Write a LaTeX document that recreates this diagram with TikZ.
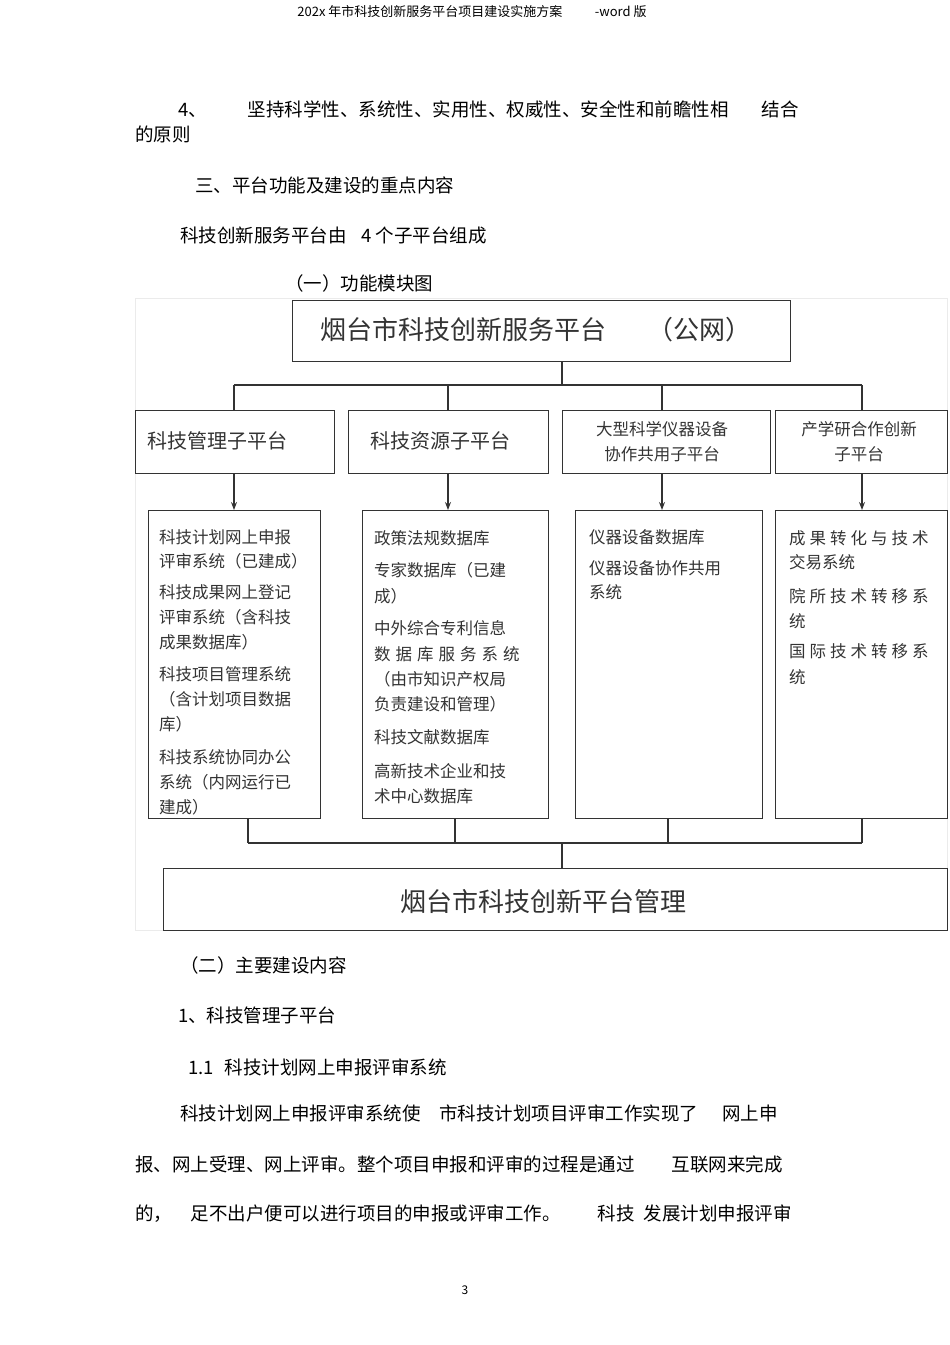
\documentclass[tikz,border=0pt]{standalone}
\usepackage{fontspec}
\setmainfont{Noto Sans CJK SC}
\usetikzlibrary{arrows.meta}
\begin{document}
\begin{tikzpicture}[x=1pt,y=-1pt,
  body/.style={anchor=west,inner sep=0pt,font=\fontsize{18.5}{22}\selectfont},
  small/.style={anchor=west,inner sep=0pt,font=\fontsize{16.5}{20}\selectfont,text=black!80},
  bx/.style={draw=black!80,line width=1pt},
  ln/.style={draw=black!80,line width=1.2pt},
  ar/.style={ln,-{Stealth[length=8pt,width=6pt]}}]
\useasboundingbox (0,0) rectangle (950,1345);
\node[inner sep=0pt,font=\fontsize{13}{15}\selectfont] (hdr) at (472,12) {202x 年市科技创新服务平台项目建设实施方案\hspace{2.5em}-word 版};
\node[body] (t1) at (178,109) {4、\hspace{2.2em}坚持科学性、系统性、实用性、权威性、安全性和前瞻性相\hspace{1.8em}结合};
\node[body] (t2) at (135,134) {的原则};
\node[body] (t3) at (195,185) {三、平台功能及建设的重点内容};
\node[body] (t4) at (180,235) {科技创新服务平台由\hspace{0.8em}4 个子平台组成};
\node[body] (t5) at (285,283) {（一）功能模块图};
\draw[black!8,line width=0.8pt] (135,298) rectangle (947,930);
\draw[bx] (292,300) rectangle (790,361);
\node[inner sep=0pt,font=\fontsize{26}{30}\selectfont,text=black!80,anchor=west] (top) at (320,330) {烟台市科技创新服务平台\hspace{1.6em}（公网）};
\coordinate (tb) at (562,361);
\draw[ln] (tb) -- (562,385);
\draw[ln] (234,385) -- (862,385);
\foreach \x in {234,448,662,862}{\draw[ln] (\x,385) -- (\x,410);}
\draw[bx] (135,410) rectangle (334,473);
\draw[bx] (348,410) rectangle (548,473);
\draw[bx] (562,410) rectangle (770,473);
\draw[bx] (775,410) rectangle (947,473);
\node[small,font=\fontsize{20}{24}\selectfont] (s1) at (147,441) {科技管理子平台};
\node[small,font=\fontsize{20}{24}\selectfont] (s2) at (370,441) {科技资源子平台};
\node[small,anchor=center] (s3a) at (662,429) {大型科学仪器设备};
\node[small,anchor=center] (s3b) at (662,454) {协作共用子平台};
\node[small,anchor=center] (s4a) at (859,429) {产学研合作创新};
\node[small,anchor=center] (s4b) at (859,454) {子平台};
\foreach \x in {234,448,662,862}{\draw[ar] (\x,473) -- (\x,510);}
\draw[bx] (148,510) rectangle (320,818);
\draw[bx] (362,510) rectangle (548,818);
\draw[bx] (575,510) rectangle (762,818);
\draw[bx] (775,510) rectangle (947,818);
\foreach \y/\t in {537/科技计划网上申报,561/评审系统（已建成）,592/科技成果网上登记,617/评审系统（含科技,642/成果数据库）,674/科技项目管理系统,699/（含计划项目数据,724/库）,757/科技系统协同办公,782/系统（内网运行已,807/建成）}
  {\node[small] at (159,\y) {\t};}
\foreach \y/\t in {538/政策法规数据库,570/专家数据库（已建,596/成）,628/中外综合专利信息,654/数\hspace{5pt}据\hspace{5pt}库\hspace{5pt}服\hspace{5pt}务\hspace{5pt}系\hspace{5pt}统,679/（由市知识产权局,704/负责建设和管理）,737/科技文献数据库,771/高新技术企业和技,796/术中心数据库}
  {\node[small] at (374,\y) {\t};}
\foreach \y/\t in {537/仪器设备数据库,568/仪器设备协作共用,592/系统}
  {\node[small] at (589,\y) {\t};}
\foreach \y/\t in {538/成\hspace{4pt}果\hspace{4pt}转\hspace{4pt}化\hspace{4pt}与\hspace{4pt}技\hspace{4pt}术,562/交易系统,596/院\hspace{4pt}所\hspace{4pt}技\hspace{4pt}术\hspace{4pt}转\hspace{4pt}移\hspace{4pt}系,621/统,651/国\hspace{4pt}际\hspace{4pt}技\hspace{4pt}术\hspace{4pt}转\hspace{4pt}移\hspace{4pt}系,677/统}
  {\node[small] at (789,\y) {\t};}
\foreach \x in {248,455,668,862}{\draw[ln] (\x,818) -- (\x,843);}
\draw[ln] (248,843) -- (862,843);
\draw[ln] (562,843) -- (562,868);
\draw[bx] (163,868) rectangle (947,930);
\node[inner sep=0pt,font=\fontsize{26}{30}\selectfont,text=black!80] (bot) at (543,902) {烟台市科技创新平台管理};
\node[body] at (180,965) {（二）主要建设内容};
\node[body] at (178,1015) {1、科技管理子平台};
\node[body] at (188,1067) {1.1\hspace{0.6em}科技计划网上申报评审系统};
\node[body] at (180,1113) {科技计划网上申报评审系统使\hspace{1em}市科技计划项目评审工作实现了\hspace{1.3em}网上申};
\node[body] at (135,1164) {报、网上受理、网上评审。整个项目申报和评审的过程是通过\hspace{2em}互联网来完成};
\node[body] at (135,1214) {的，\hspace{1em}足不出户便可以进行项目的申报或评审工作。\hspace{2em}科技\hspace{0.5em}发展计划申报评审};
\node[inner sep=0pt,font=\fontsize{12}{14}\selectfont] at (465,1290) {3};
\end{tikzpicture}
\end{document}
